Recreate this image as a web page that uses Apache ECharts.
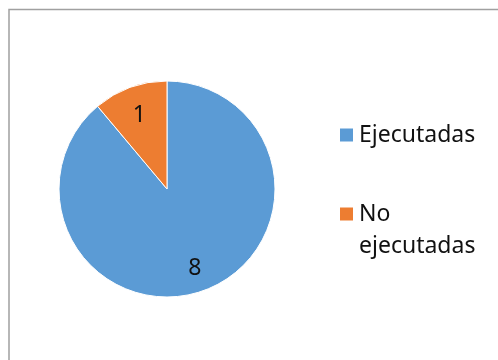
<!DOCTYPE html>
<html>
<head>
<meta charset="utf-8">
<script src="https://cdn.jsdelivr.net/npm/echarts@6/dist/echarts.min.js"></script>
<style>
html,body{margin:0;padding:0;background:#fff;}
#chart{width:498px;height:360px;}
</style>
</head>
<body>
<div id="chart"></div>
<script>
const categories = ['Ejecutadas', 'No ejecutadas'];
const values = [8, 1];
const colors = ['#5B9BD5', '#ED7D31'];

const FONT = '"Noto Sans", "Open Sans", sans-serif';
const chart = echarts.init(document.getElementById('chart'), null, {renderer: 'canvas'});
const data = categories.map((c, i) => ({name: c, value: values[i], itemStyle: {color: colors[i]}}));

chart.setOption({
  animation: false,
  backgroundColor: '#fff',
  graphic: [{
    type: 'rect',
    shape: {x: 9, y: 9.5, width: 700, height: 700},
    style: {fill: 'none', stroke: '#a0a0a0', lineWidth: 1.5},
    z: 0
  }],
  legend: [{
    orient: 'vertical',
    left: 338,
    top: 119,
    padding: 0,
    itemWidth: 15,
    itemHeight: 15,
    icon: 'rect',
    data: [categories[0]],
    textStyle: {fontFamily: FONT, fontSize: 23, color: '#111', lineHeight: 32}
  }, {
    orient: 'vertical',
    left: 338,
    top: 166,
    padding: 0,
    itemWidth: 15,
    itemHeight: 15,
    icon: 'rect',
    data: [categories[1]],
    formatter: function (n) { return '\n' + n.replace(' ', '\n'); },
    textStyle: {fontFamily: FONT, fontSize: 23, color: '#111', lineHeight: 32}
  }],
  series: [{
    type: 'pie',
    center: [167, 189],
    radius: [0, 108],
    startAngle: 90,
    clockwise: true,
    label: {show: false},
    labelLine: {show: false},
    itemStyle: {borderColor: '#fff', borderWidth: 1},
    emphasis: {disabled: true},
    data: data
  }, {
    type: 'pie',
    center: [167, 192],
    radius: [48, 108],
    startAngle: 90,
    clockwise: true,
    silent: true,
    legendHoverLink: false,
    itemStyle: {color: 'rgba(0,0,0,0)', borderWidth: 0},
    label: {show: true, position: 'inside', formatter: '{c}', fontFamily: FONT, fontSize: 23, color: '#111'},
    labelLine: {show: false},
    emphasis: {disabled: true},
    data: data.map(d => ({name: d.name, value: d.value, itemStyle: {color: 'rgba(0,0,0,0)'}}))
  }]
});
</script>
</body>
</html>
